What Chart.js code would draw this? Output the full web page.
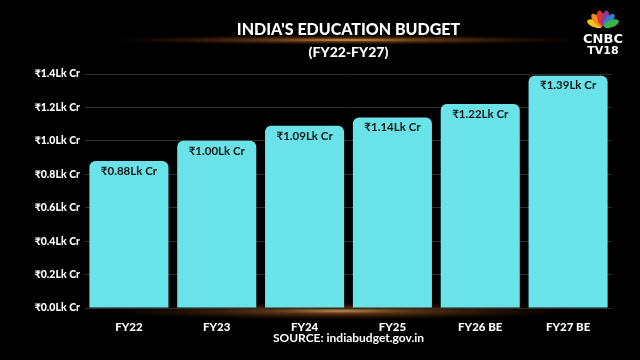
<!DOCTYPE html>
<html>
<head>
<meta charset="utf-8">
<script src="https://cdn.jsdelivr.net/npm/chart.js@4"></script>
<style>
  html, body { margin: 0; padding: 0; background: #000; }
  #wrap { width: 640px; height: 360px; position: relative; }
</style>
</head>
<body>
<div id="wrap"><canvas id="myChart" width="640" height="360"></canvas></div>
<script>
'use strict';

// Data
var categories = ['FY22', 'FY23', 'FY24', 'FY25', 'FY26 BE', 'FY27 BE'];
var budgetValues = [0.88, 1.00, 1.09, 1.14, 1.22, 1.39];
var valueLabels = ['₹0.88Lk Cr', '₹1.00Lk Cr', '₹1.09Lk Cr', '₹1.14Lk Cr', '₹1.22Lk Cr', '₹1.39Lk Cr'];
var yTicks = [0, 0.2, 0.4, 0.6, 0.8, 1.0, 1.2, 1.4];

var titleText = "INDIA'S EDUCATION BUDGET";
var subtitleText = '(FY22-FY27)';
var sourceText = 'SOURCE: indiabudget.gov.in';

var FONT = 'Lato, "Open Sans", sans-serif';
var barColor = '#6ae3e8';

function glow(ctx, cx, cy, rx, ry, alpha) {
  ctx.save();
  ctx.translate(cx, cy);
  ctx.scale(1, ry / rx);
  var g = ctx.createRadialGradient(0, 0, 0, 0, 0, rx);
  g.addColorStop(0, 'rgba(255,185,100,' + alpha + ')');
  g.addColorStop(0.3, 'rgba(210,120,45,' + (alpha * 0.55) + ')');
  g.addColorStop(1, 'rgba(120,50,10,0)');
  ctx.fillStyle = g;
  ctx.beginPath();
  ctx.arc(0, 0, rx, 0, Math.PI * 2);
  ctx.fill();
  ctx.restore();
}

// backdrop, title, logo, source
var decorPlugin = {
  id: 'decor',
  beforeDraw: function(chart) {
    var ctx = chart.ctx;
    ctx.save();
    ctx.fillStyle = '#000';
    ctx.fillRect(0, 0, chart.width, chart.height);
    glow(ctx, 348, 40, 240, 5, 0.9);
    glow(ctx, 340, 311, 240, 9, 0.75);
    ctx.restore();
  },
  afterDraw: function(chart) {
    var ctx = chart.ctx;
    var area = chart.chartArea;
    var cx = (area.left + area.right) / 2;
    ctx.save();
    ctx.fillStyle = '#fff';
    ctx.textAlign = 'center';
    ctx.textBaseline = 'middle';
    ctx.shadowColor = 'rgba(0,0,0,0.8)';
    ctx.shadowBlur = 3;
    ctx.font = '900 16px ' + FONT;
    ctx.fillText(titleText, cx, 30);
    ctx.font = '900 14px ' + FONT;
    ctx.fillText(subtitleText, cx, 52);
    ctx.font = 'bold 12px ' + FONT;
    ctx.fillText(sourceText, cx, 338);
    ctx.shadowBlur = 0;

    // logo
    var fx = 603, fy = 27;
    var feathers = ['#f6c21c', '#f08a24', '#e4312f', '#8e3c98', '#2f7fd0', '#3fb24a'];
    for (var i = 0; i < feathers.length; i++) {
      var ang = -Math.PI * (0.88 - i * 0.152);
      ctx.save();
      ctx.translate(fx + Math.cos(ang) * 9, fy + Math.sin(ang) * 9);
      ctx.rotate(ang);
      ctx.fillStyle = feathers[i];
      ctx.beginPath();
      ctx.ellipse(0, 0, 8, 3.6, 0, 0, Math.PI * 2);
      ctx.fill();
      ctx.restore();
    }
    ctx.fillStyle = '#fff';
    ctx.font = 'bold 13px "DejaVu Sans", sans-serif';
    ctx.fillText('CNBC', fx, 40);
    ctx.font = 'bold 11px "DejaVu Sans", sans-serif';
    ctx.fillText('TV18', fx, 51);
    ctx.restore();
  }
};

// value labels inside bar tops
var valuePlugin = {
  id: 'values',
  afterDatasetsDraw: function(chart) {
    var ctx = chart.ctx;
    var meta = chart.getDatasetMeta(0);
    ctx.save();
    ctx.fillStyle = '#161616';
    ctx.font = 'bold 11.5px ' + FONT;
    ctx.textAlign = 'center';
    ctx.textBaseline = 'middle';
    meta.data.forEach(function(bar, i) {
      ctx.fillText(valueLabels[i], bar.x, bar.y + 10);
    });
    ctx.restore();
  }
};

var canvas = document.getElementById('myChart');
var ctx = canvas.getContext('2d');

var datasetItem = {
  data: budgetValues,
  backgroundColor: barColor,
  borderWidth: 0,
  borderRadius: { topLeft: 6, topRight: 6, bottomLeft: 0, bottomRight: 0 },
  borderSkipped: false,
  categoryPercentage: 1.0,
  barPercentage: 0.9
};

var barChartConfig = {
  type: 'bar',
  data: {
    labels: categories,
    datasets: [datasetItem]
  },
  options: {
    responsive: false,
    animation: false,
    layout: { padding: { top: 74, right: 28, left: 0, bottom: 0 } },
    plugins: {
      legend: { display: false },
      title: { display: false },
      tooltip: { enabled: false }
    },
    scales: {
      x: {
        grid: { display: false },
        border: { display: false },
        ticks: {
          color: '#fff',
          font: { family: FONT, size: 11.5, weight: '900' },
          padding: 4,
          maxRotation: 0
        },
        afterFit: function(scale) { scale.height = 52; }
      },
      y: {
        min: 0,
        max: 1.4,
        afterBuildTicks: function(scale) {
          scale.ticks = yTicks.map(function(v) { return { value: v }; });
        },
        grid: { color: '#2e2e2e', lineWidth: 1, drawTicks: false },
        border: { display: false },
        ticks: {
          color: '#fff',
          font: { family: FONT, size: 10.5, weight: '900' },
          padding: 5,
          callback: function(v) { return '₹' + Number(v).toFixed(1) + 'Lk Cr'; }
        },
        afterFit: function(scale) { scale.width = 85; }
      }
    }
  },
  plugins: [decorPlugin, valuePlugin]
};

var barChart = new Chart(ctx, barChartConfig);
</script>
</body>
</html>
